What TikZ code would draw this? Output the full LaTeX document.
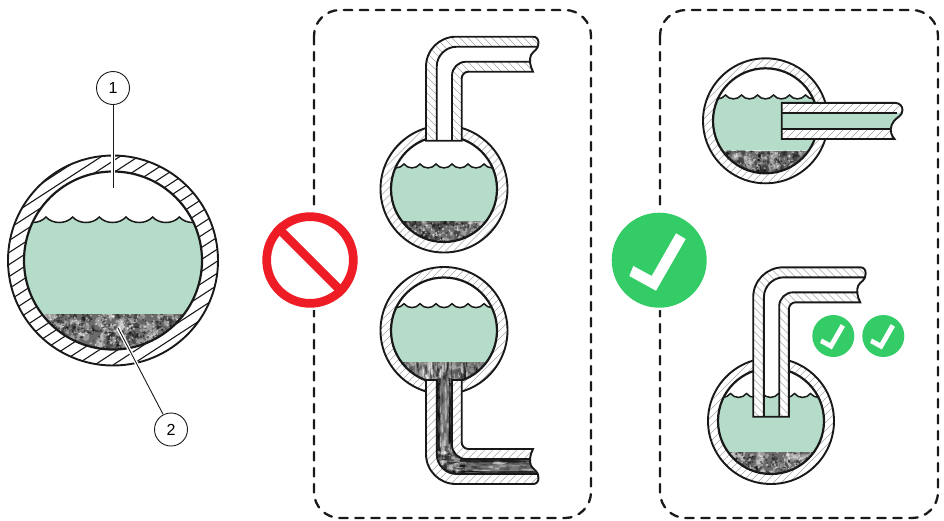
\documentclass[tikz,border=0pt]{standalone}
\usepackage{fontspec}
\setmainfont{Liberation Sans}
\definecolor{waterc}{HTML}{B4DCC8}
\definecolor{okgreen}{HTML}{33CC66}
\definecolor{nored}{HTML}{EE1C25}
\tikzset{
  wall/.style={draw=black!90,line width=1.9pt},
  hatchthin/.style={draw=black!35,line width=0.55pt},
  hatchbig/.style={draw=black!90,line width=1.1pt},
  hatchline/.style={hatchthin},
  boxdash/.style={draw=black!90,line width=2.3pt,line cap=round,dash pattern=on 8.5pt off 7.5pt,rounded corners=26pt},
  callout/.style={circle,draw=black!90,line width=0.9pt,minimum size=33pt,inner sep=0pt,fill=white,font=\fontsize{16}{16}\selectfont},
  leader/.style={draw=black!90,line width=0.9pt},
  leaderhalo/.style={draw=white,line width=3.6pt}
}
% noise: xmin ymin w h count halfwidth halfheight opacity
\newcommand\noisefill[8]{%
  \pgfmathtruncatemacro\nn{#5}%
  \foreach \ii in {1,...,\nn}{%
    \pgfmathsetmacro\px{(#1)+rnd*(#3)}%
    \pgfmathsetmacro\py{(#2)+rnd*(#4)}%
    \pgfmathtruncatemacro\gg{rnd>0.5?0:100}%
    \pgfmathsetmacro\sx{#6*(0.5+rnd)}%
    \pgfmathsetmacro\sy{#7*(0.5+rnd)}%
    \fill[black!\gg,opacity=#8] (\px,\py) ellipse[x radius=\sx,y radius=\sy];
  }}
\newcommand\sediment[5]{% x y w h scale(count)
  \fill[black!58] ({#1},{#2}) rectangle ({#1+(#3)},{#2+(#4)});
  \noisefill{#1}{#2}{#3}{#4}{#5}{3.2}{3.2}{.33}
  \noisefill{#1}{#2}{#3}{#4}{2*#5}{1.1}{1.1}{.5}
}
% water: first cusp x, cusp y, count, width, bottom y
\newcommand\waterbody[5]{%
  \fill[waterc] (#1,#2) \foreach \k in {1,...,#3}{ .. controls ({#1+(\k-1)*#4+0.25*#4},{#2+0.2*#4+2}) and ({#1+(\k-1)*#4+0.75*#4},{#2+0.2*#4+2}) .. ({#1+\k*#4},#2)} -- ({#1+#3*#4},#5) -- (#1,#5) -- cycle;
  \draw[draw=black!90,line width=1.5pt] (#1,#2) \foreach \k in {1,...,#3}{ .. controls ({#1+(\k-1)*#4+0.25*#4},{#2+0.2*#4+2}) and ({#1+(\k-1)*#4+0.75*#4},{#2+0.2*#4+2}) .. ({#1+\k*#4},#2)};
}
% vessel: cx cy R r cuspx cuspy n w sedimentY
\newcommand\vessel[9]{%
  \begin{scope}
    \clip (#1,#2) circle[radius=#3];
    \fill[white] (#1,#2) circle[radius=#3];
    \foreach \t in {-30,...,30}{\draw[hatchline] ({#1-#3-5},{#2+\t*\hstep+20}) -- ({#1+#3+5},{#2+\t*\hstep+20-(2*#3+10)*\hslope});}
  \end{scope}
  \begin{scope}
    \clip (#1,#2) circle[radius=#4];
    \fill[white] (#1,#2) circle[radius=#4];
    \waterbody{#5}{#6}{#7}{#8}{#9}
    \begin{scope}
      \clip ({#1-#4},#9) rectangle ({#1+#4},{#2+#4+1});
      \sediment{#1-#4}{#9}{2*#4}{#2+#4-#9+1}{\noisecount}
      \extrasediment
    \end{scope}
  \end{scope}
  \draw[wall] (#1,#2) circle[radius=#3];
  \draw[wall,line width=2.2pt] (#1,#2) circle[radius=#4];
}
\def\extrasediment{}
\def\hstep{8}\def\hslope{1}\def\noisecount{90}
\def\tubeend{140.7}
\def\tubeouter{(426,\tubeend) -- (426,66.7) .. controls (426,50) and (439.4,36.7) .. (456,36.7) -- (533,36.7) .. controls (536.5,36.7) and (538.5,39) .. (538.5,43) .. controls (538.5,50) and (533,51) .. (531,55) .. controls (529,59.5) and (530,66) .. (533,71.7) -- (468.4,71.7) .. controls (464.7,71.7) and (461.7,74.7) .. (461.7,78.4) -- (461.7,\tubeend) -- cycle}
\def\boreshape{(436.7,\tubeend) -- (436.7,66.7) .. controls (436.7,55.7) and (445.7,46.7) .. (456.7,46.7) -- (537,46.7) .. controls (535,50) and (532.5,52) .. (531,55) .. controls (530,57.5) and (529.8,59.5) .. (530.5,61.7) -- (466,61.7) .. controls (458.3,61.7) and (452,68) .. (452,75.7) -- (452,\tubeend) -- cycle}
\def\boreedge{(436.7,\tubeend) -- (436.7,66.7) .. controls (436.7,55.7) and (445.7,46.7) .. (456.7,46.7) -- (537,46.7) (530.5,61.7) -- (466,61.7) .. controls (458.3,61.7) and (452,68) .. (452,75.7) -- (452,\tubeend)}
\newcommand\tube[1]{%
  \begin{scope}
    \clip \tubeouter;
    \fill[white] (420,30) rectangle (545,200);
    \foreach \t in {-25,...,20}{\draw[hatchthin] ({420+\t*8},30) -- ({420+\t*8+170},200);}
  \end{scope}
  \begin{scope}
    \clip \boreshape;
    \fill[white] (420,30) rectangle (545,200);
    #1
  \end{scope}
  \draw[wall] \tubeouter;
  \draw[wall] \boreedge;
}
\newcommand\okmark[3]{% centre x, y, scale
  \fill[white] ({#1-25.9*#3},{#2+5.8*#3}) -- ({#1-29.9*#3},{#2+15.8*#3}) -- ({#1-3.2*#3},{#2+30.5*#3}) -- ({#1+26.5*#3},{#2-21.2*#3}) -- ({#1+16.8*#3},{#2-26.9*#3}) -- ({#1-7.5*#3},{#2+15.8*#3}) -- cycle;
}
\begin{document}
\begin{tikzpicture}[x=1pt,y=-1pt]
\useasboundingbox (0,0) rectangle (944,520);
\pgfmathsetseed{4242}
% dashed frames
\draw[boxdash] (314,10) rectangle (591,518);
\draw[boxdash] (660,10) rectangle (938,518);
% prohibition sign
\fill[white] (310,260) circle[radius=50];
\node[circle,draw=nored,line width=8.7pt,minimum size=86.7pt,inner sep=0pt] (nosign) at (310,260) {};
\draw[nored,line width=8.5pt] (nosign.north west) -- (nosign.south east);
% big OK sign
\fill[white] (659.2,260.2) circle[radius=50];
\fill[okgreen] (659.2,260.2) circle[radius=47.5];
\okmark{659.2}{260.2}{1}
% small OK signs
\node[circle,fill=okgreen,minimum size=42pt,inner sep=0pt] (ok1) at (833.3,336) {};
\node[circle,fill=okgreen,minimum size=42pt,inner sep=0pt] (ok2) at (883.3,336) {};
\okmark{833.3}{336}{0.44}
\okmark{883.3}{336}{0.44}
% large vessel
\begingroup
\def\hstep{12}\def\hslope{0.65}\def\noisecount{260}
\tikzset{hatchline/.style={hatchbig}}
\vessel{113}{260.5}{105}{89}{19.3}{217}{8}{26.67}{314}
\endgroup
% top middle
\vessel{444}{189}{63.5}{53}{388}{164}{8}{16}{221}
\tube{}
% bottom middle
\begingroup
\def\extrasediment{\fill[black!45,opacity=.5] (390,362) rectangle (498,385);\noisefill{395}{362}{98}{22}{110}{1}{5}{.45}}
\vessel{444}{330.5}{63.5}{53}{388}{303.7}{8}{16}{362.3}
\endgroup
\begin{scope}[shift={(0,520.7)},yscale=-1]
\tube{%
  \fill[black!66] (430,40) rectangle (545,145);
  \noisefill{436}{70}{18}{72}{110}{1}{5}{.36}
  \noisefill{450}{46}{88}{16}{130}{5}{1}{.36}
  \noisefill{437}{48}{22}{22}{50}{2}{2}{.36}
  \fill[white,opacity=.2] (440,75) rectangle (449,141);
  \fill[white,opacity=.2] (465,50) rectangle (538,58);
  \fill[black,opacity=.5] (436.7,70) rectangle (439.5,141);
  \fill[black,opacity=.5] (449.2,78) rectangle (452,141);
  \fill[black,opacity=.5] (460,58.9) rectangle (538,61.7);
  \fill[black,opacity=.5] (460,46.7) rectangle (538,49.5);
}
\end{scope}
% opening of the lower pipe: no wall line across the bore
\fill[black!55] (438,377.5) rectangle (450.7,383);
\noisefill{438.5}{378}{12}{5}{10}{.8}{3}{.4}
% top right
\vessel{765.5}{120.8}{62.5}{52.5}{709.5}{95}{8}{16}{150.7}
\begin{scope}
  \def\hout{(781.7,102.9) -- (895,102.9) .. controls (899.5,102.9) and (902.5,106) .. (902.5,110) .. controls (902.5,116) and (897,117) .. (894,121) .. controls (890.5,125.5) and (888.5,132) .. (894.5,139) -- (781.7,139) -- cycle}
  \begin{scope}
    \clip \hout;
    \fill[white] (775,95) rectangle (910,145);
    \foreach \t in {-6,...,20}{\draw[hatchthin] ({780+\t*8},145) -- ({780+\t*8+50},95);}
    \fill[waterc] (781.7,113.3) rectangle (910,129);
  \end{scope}
  \draw[wall] \hout;
  \draw[wall] (781.7,113.3) -- (897,113.3) (781.7,129) -- (890,129);
\end{scope}
% bottom right
\vessel{771}{421}{63}{53}{714.5}{393.5}{8}{16}{452}
\begin{scope}[shift={(327.2,230.6)}]
\def\tubeend{186.1}
\tube{\waterbody{387.3}{162.9}{8}{16}{190}}
\end{scope}
% call-outs
\node[callout] (n1) at (113,88) {1};
\node[callout] (n2) at (171,429.5) {2};
\coordinate (t1) at (113,188);
\coordinate (t2) at (118,328);
\draw[leaderhalo] (n1) -- (t1);
\draw[leaderhalo] (n2) -- (t2);
\draw[leader] (n1) -- (t1);
\draw[leader] (n2) -- (t2);
\end{tikzpicture}
\end{document}
